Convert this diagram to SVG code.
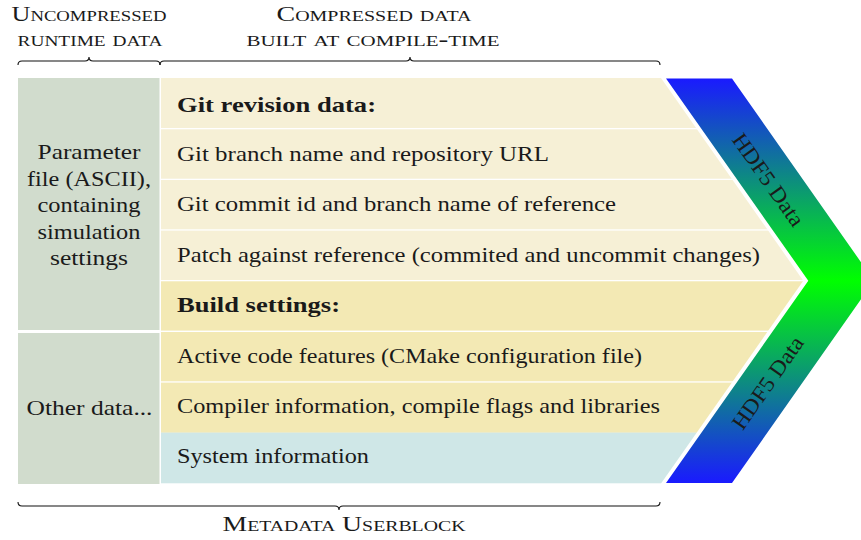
<svg xmlns="http://www.w3.org/2000/svg" width="861" height="540" viewBox="0 0 861 540" font-family="'Liberation Serif', 'Times New Roman', serif">
  <style>
    text { font-family: 'Liberation Serif', 'Times New Roman', serif; fill: #1a1a1a; }
    .t { font-size: 22px; }
    .b { font-size: 22px; font-weight: bold; }
    .sc { font-size: 21px; font-variant: small-caps; text-anchor: middle; }
    .mid { text-anchor: middle; }
    .brace { fill: none; stroke: #111; stroke-width: 1.1; }
    .left { fill: #d1dccd; }
    .cream { fill: #f6f0d6; }
    .yellow { fill: #f3e9b4; }
    .cyan { fill: #cfe7e7; }
  </style>
  <defs>
    <!-- right-hand cells end in an arrow point -->
    <clipPath id="rowsClip">
      <polygon points="161,78 661,78 803.3,280.7 661,483.4 161,483.4"/>
    </clipPath>
    <linearGradient id="hdf5Grad" gradientUnits="userSpaceOnUse" x1="0" y1="78.5" x2="0" y2="483">
      <stop offset="0" stop-color="#1a1aff"/>
      <stop offset="0.5" stop-color="#00ff00"/>
      <stop offset="1" stop-color="#1a1aff"/>
    </linearGradient>
  </defs>

  <!-- header labels -->
  <g id="label-uncompressed">
    <text class="sc" x="89" y="21" textLength="155" lengthAdjust="spacingAndGlyphs">Uncompressed</text>
    <text class="sc" x="90" y="46" textLength="145" lengthAdjust="spacingAndGlyphs">runtime data</text>
  </g>
  <g id="label-compressed">
    <text class="sc" x="374" y="21" textLength="195" lengthAdjust="spacingAndGlyphs">Compressed data</text>
    <text class="sc" x="373" y="46" textLength="253" lengthAdjust="spacingAndGlyphs">built at compile-time</text>
  </g>
  <g id="label-userblock">
    <text class="sc" x="344" y="531" textLength="243" lengthAdjust="spacingAndGlyphs">Metadata Userblock</text>
  </g>

  <!-- braces -->
  <g id="connectors">
    <path class="brace" d="M18,65 q0,-4 4,-4 H85 q4,0 4,-4 q0,4 4,4 H156 q4,0 4,4"/>
    <path class="brace" d="M160,65 q0,-4 4,-4 H406 q4,0 4,-4 q0,4 4,4 H656 q4,0 4,4"/>
    <path class="brace" d="M18,502 q0,4 4,4 H335 q4,0 4,4 q0,-4 4,-4 H656 q4,0 4,-4"/>
  </g>

  <!-- left column -->
  <g id="param-file">
    <rect class="left" x="18" y="78" width="141.5" height="252"/>
    <text class="t mid" x="89" y="159" textLength="103" lengthAdjust="spacingAndGlyphs">Parameter</text>
    <text class="t mid" x="89" y="185.5" textLength="124" lengthAdjust="spacingAndGlyphs">file (ASCII),</text>
    <text class="t mid" x="89" y="212" textLength="103" lengthAdjust="spacingAndGlyphs">containing</text>
    <text class="t mid" x="89" y="238.5" textLength="103" lengthAdjust="spacingAndGlyphs">simulation</text>
    <text class="t mid" x="89" y="265" textLength="78" lengthAdjust="spacingAndGlyphs">settings</text>
  </g>
  <g id="other-data">
    <rect class="left" x="18" y="333" width="141.5" height="151"/>
    <text class="t mid" x="89.5" y="415" textLength="126" lengthAdjust="spacingAndGlyphs">Other data...</text>
  </g>

  <!-- compressed rows -->
  <g clip-path="url(#rowsClip)">
    <g id="git-header">
      <rect class="cream" x="161" y="78" width="660" height="50"/>
      <text class="b" x="177" y="111.5" textLength="199" lengthAdjust="spacingAndGlyphs">Git revision data:</text>
    </g>
    <g id="git-branch">
      <rect class="cream" x="161" y="129.3" width="660" height="49.4"/>
      <text class="t" x="177" y="160.5" textLength="372" lengthAdjust="spacingAndGlyphs">Git branch name and repository URL</text>
    </g>
    <g id="git-commit">
      <rect class="cream" x="161" y="180" width="660" height="49.3"/>
      <text class="t" x="177" y="211" textLength="439" lengthAdjust="spacingAndGlyphs">Git commit id and branch name of reference</text>
    </g>
    <g id="git-patch">
      <rect class="cream" x="161" y="230.6" width="660" height="49.4"/>
      <text class="t" x="177" y="261.7" textLength="583" lengthAdjust="spacingAndGlyphs">Patch against reference (commited and uncommit changes)</text>
    </g>
    <g id="build-header">
      <rect class="yellow" x="161" y="281.3" width="660" height="49.3"/>
      <text class="b" x="177" y="311.7" textLength="163" lengthAdjust="spacingAndGlyphs">Build settings:</text>
    </g>
    <g id="build-features">
      <rect class="yellow" x="161" y="332" width="660" height="49.3"/>
      <text class="t" x="177" y="362.5" textLength="465" lengthAdjust="spacingAndGlyphs">Active code features (CMake configuration file)</text>
    </g>
    <g id="build-compiler">
      <rect class="yellow" x="161" y="382.6" width="660" height="50.2"/>
      <text class="t" x="177" y="413" textLength="483" lengthAdjust="spacingAndGlyphs">Compiler information, compile flags and libraries</text>
    </g>
    <g id="system-info">
      <rect class="cyan" x="161" y="432.6" width="660" height="51"/>
      <text class="t" x="177" y="463.3" textLength="192" lengthAdjust="spacingAndGlyphs">System information</text>
    </g>
  </g>

  <!-- HDF5 chevron -->
  <g id="hdf5-chevron">
    <polygon points="666,78.5 732,78.5 874,280.7 732,483 666,483 808.3,280.7" fill="url(#hdf5Grad)"/>
    <text class="t mid" transform="translate(768,180) rotate(54.9)" x="0" y="7" textLength="108" lengthAdjust="spacingAndGlyphs">HDF5 Data</text>
    <text class="t mid" transform="translate(768,383) rotate(-54.9)" x="0" y="7" textLength="108" lengthAdjust="spacingAndGlyphs">HDF5 Data</text>
  </g>
</svg>
